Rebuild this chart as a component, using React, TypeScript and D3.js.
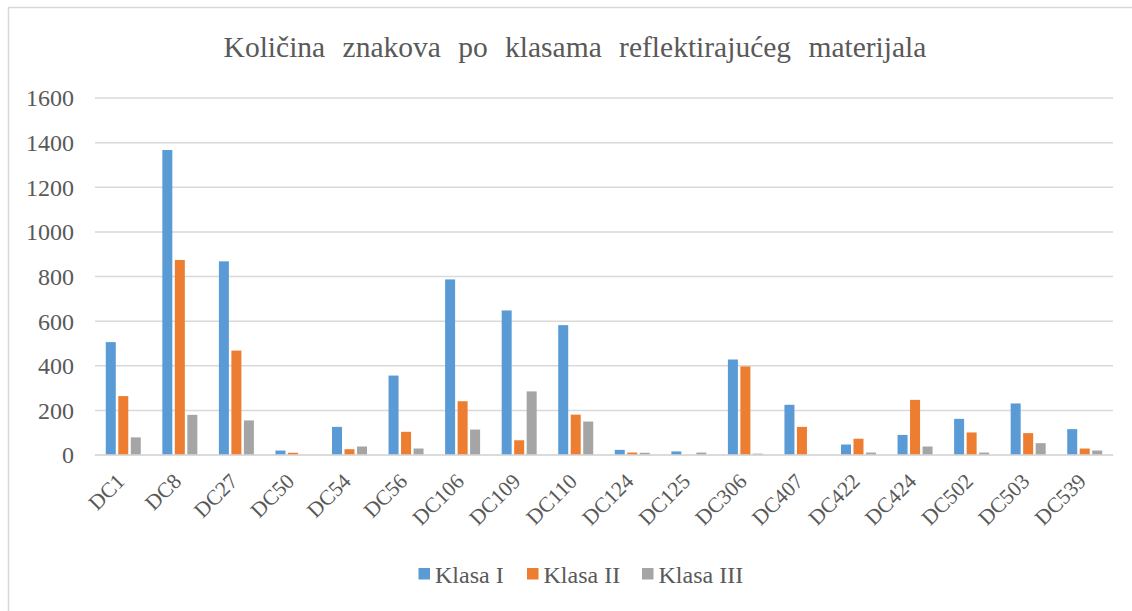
import React from "react";
import * as d3 from "d3";

const categories = ["DC1","DC8","DC27","DC50","DC54","DC56","DC106","DC109","DC110","DC124","DC125","DC306","DC407","DC422","DC424","DC502","DC503","DC539"];
const klasaI = [506,1367,868,20,126,356,787,648,582,23,16,428,225,47,90,162,231,116];
const klasaII = [264,874,468,10,26,104,241,66,181,11,0,397,126,73,247,101,98,29];
const klasaIII = [79,180,155,0,38,29,114,285,150,10,11,6,0,11,38,11,53,20];
const seriesNames = ["Klasa I","Klasa II","Klasa III"];
const seriesColors = ["#5b9bd5","#ed7d31","#a5a5a5"];
const yTicks = [0,200,400,600,800,1000,1200,1400,1600];
const title = "Količina znakova po klasama reflektirajućeg materijala";

export default function App() {
  const W = 1132, H = 611;
  const left = 95, right = 1113, top = 98, bottom = 455;
  const x = d3.scaleBand<string>().domain(categories).range([left, right]).paddingInner(0).paddingOuter(0);
  const y = d3.scaleLinear().domain([0, 1600]).range([bottom, top]);
  const series = [klasaI, klasaII, klasaIII];
  const barW = 10;
  const step = 12.5;
  const fontStyle = { fontFamily: '"Liberation Serif", "Times New Roman", serif' };
  const textColor = "#595959";
  const legendX = [418.5, 527, 642];
  return (
    <svg width={W} height={H} style={{ position: "absolute", left: 0, top: 0 }}>
      <rect x={0} y={0} width={W} height={H} fill="#fff" />
      <rect x={8.5} y={7.5} width={1140} height={620} fill="#fff" stroke="#d9d9d9" strokeWidth={1.5} />
      <text x={575} y={57} textAnchor="middle" style={fontStyle} fontSize={29.5} wordSpacing={10} fill={textColor}>{title}</text>
      {yTicks.map(t => (
        <g key={t}>
          <line x1={left} x2={right} y1={y(t)} y2={y(t)} stroke="#d9d9d9" strokeWidth={1.5} />
          <text x={74} y={y(t)} dy="0.35em" textAnchor="end" style={fontStyle} fontSize={24} fill={textColor}>{t}</text>
        </g>
      ))}
      {series.map((vals, si) => (
        <g key={si}>
          {vals.map((v, i) => {
            const cx = x(categories[i])! + x.bandwidth() / 2 + (si - 1) * step;
            return v > 0 ? (
              <rect key={i} x={cx - barW / 2} y={y(v)} width={barW} height={y(0) - y(v)} fill={seriesColors[si]} />
            ) : null;
          })}
        </g>
      ))}
      <line x1={left} x2={right} y1={y(0)} y2={y(0)} stroke="#d9d9d9" strokeWidth={1.5} />
      {categories.map(c => {
        const cx = x(c)! + x.bandwidth() / 2 - 8;
        return (
          <text key={c} transform={`translate(${cx},${472}) rotate(-45)`} textAnchor="end" dy="0.7em" style={fontStyle} fontSize={21.5} fill={textColor}>{c}</text>
        );
      })}
      {seriesNames.map((n, i) => (
        <g key={n}>
          <rect x={legendX[i]} y={568} width={11.5} height={11.5} fill={seriesColors[i]} />
          <text x={legendX[i] + 16.5} y={583} style={fontStyle} fontSize={24} fill={textColor}>{n}</text>
        </g>
      ))}
    </svg>
  );
}
